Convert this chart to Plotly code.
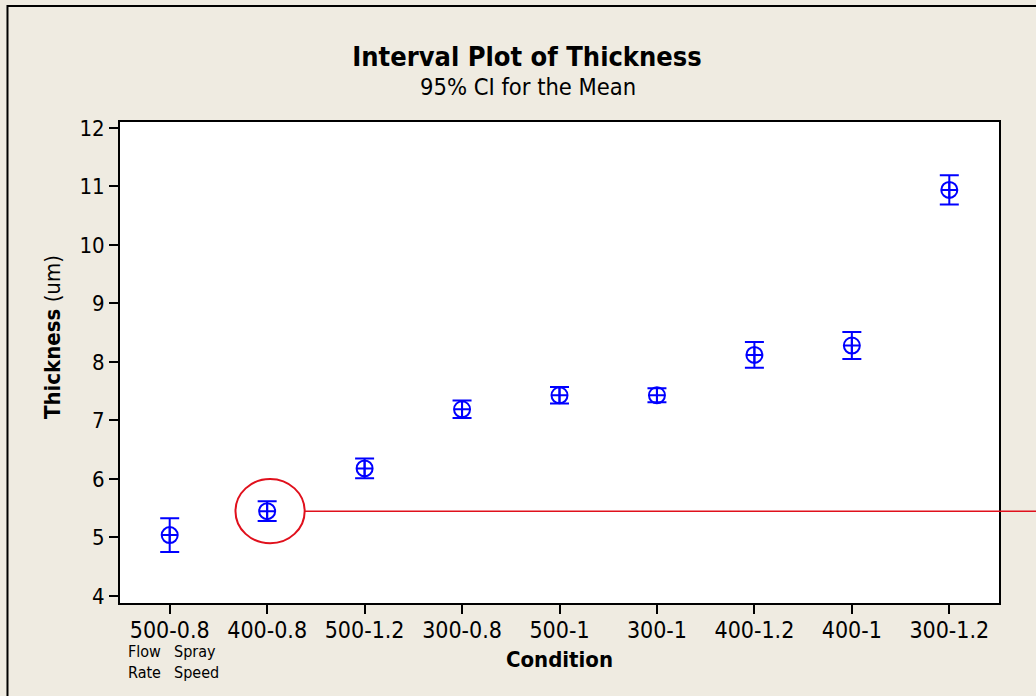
import plotly.graph_objects as go

conditions = ["500-0.8", "400-0.8", "500-1.2", "300-0.8", "500-1", "300-1", "400-1.2", "400-1", "300-1.2"]
means = [5.04, 5.45, 6.18, 7.19, 7.43, 7.43, 8.12, 8.28, 10.94]
ci_half = [0.29, 0.17, 0.17, 0.15, 0.14, 0.12, 0.22, 0.23, 0.25]
y_ticks = [4, 5, 6, 7, 8, 9, 10, 11, 12]

FONT = "DejaVu Sans Condensed, Liberation Sans, sans-serif"
BG = "#EFEBE1"
BLUE = "#0000FF"
RED = "#E0101C"
X_RANGE = [-0.51, 8.51]
Y_RANGE = [3.88, 12.1]

fig = go.Figure()
fig.add_trace(go.Scatter(
    x=list(range(len(conditions))), y=means, mode="markers",
    marker=dict(symbol="circle-cross-open", size=16, color=BLUE, line=dict(width=2, color=BLUE)),
    error_y=dict(type="data", array=ci_half, visible=True, color=BLUE, thickness=2, width=9.5),
    showlegend=False, hoverinfo="x+y",
))

hi = 1  # highlighted condition index
fig.add_shape(type="circle", xref="x", yref="y",
              x0=hi + 0.03 - 0.355, x1=hi + 0.03 + 0.355, y0=means[hi] - 0.55, y1=means[hi] + 0.55,
              line=dict(color=RED, width=2))
# pointer line running out past the right edge of the plot (paper coords so it is not clipped)
hx0 = (hi + 0.385 - X_RANGE[0]) / (X_RANGE[1] - X_RANGE[0])
hy = (means[hi] - Y_RANGE[0]) / (Y_RANGE[1] - Y_RANGE[0])
fig.add_shape(type="line", xref="paper", yref="paper",
              x0=hx0, x1=1.1, y0=hy, y1=hy,
              line=dict(color=RED, width=1.5))

# outer frame
fig.add_shape(type="rect", xref="paper", yref="paper",
              x0=-0.128, x1=1.5, y0=-0.5, y1=1.241,
              line=dict(color="black", width=2), layer="below")

fig.update_layout(
    width=1036, height=696,
    paper_bgcolor=BG, plot_bgcolor="white",
    margin=dict(l=120, r=37, t=122, b=93),
    font=dict(family=FONT, color="black", size=21),
    title=dict(
        text="<b>Interval Plot of Thickness</b>",
        x=527 / 1036, xanchor="center", xref="container", y=1 - 57 / 696, yanchor="middle",
        font=dict(family=FONT, size=27, color="black"),
    ),
    xaxis=dict(
        tickmode="array", tickvals=list(range(len(conditions))), ticktext=conditions,
        range=X_RANGE, showgrid=False, zeroline=False,
        showline=True, linecolor="black", linewidth=2, mirror=True,
        ticks="outside", ticklen=9, tickwidth=1.5, tickcolor="black",
        tickfont=dict(size=23), ticklabelstandoff=-4,
        title=dict(text="<b>Condition</b>", font=dict(size=22), standoff=10),
    ),
    yaxis=dict(
        tickmode="array", tickvals=y_ticks, range=Y_RANGE,
        showgrid=False, zeroline=False,
        showline=True, linecolor="black", linewidth=2, mirror=True,
        ticks="outside", ticklen=9, tickwidth=1.5, tickcolor="black",
        tickfont=dict(size=22),
    ),
)

fig.add_annotation(text="95% CI for the Mean", xref="paper", yref="paper", x=(528 - 120) / 879,
                   y=1 + (122 - 87) / 481,
                   xanchor="center", yanchor="middle", showarrow=False, font=dict(size=23.5, family=FONT))
fig.add_annotation(text="<b>Thickness</b> (um)", xref="paper", yref="paper",
                   x=(52 - 120) / 879, y=(603 - 337) / 481, textangle=-90,
                   xanchor="center", yanchor="middle", showarrow=False, font=dict(size=22, family=FONT))
fig.add_annotation(text="Flow<br>Rate", xref="paper", yref="paper", x=6 / 879, y=-(640 - 603) / 481,
                   xanchor="left", yanchor="top", showarrow=False, align="left",
                   font=dict(size=16, family=FONT))
fig.add_annotation(text="Spray<br>Speed", xref="paper", yref="paper", x=52 / 879, y=-(640 - 603) / 481,
                   xanchor="left", yanchor="top", showarrow=False, align="left",
                   font=dict(size=16, family=FONT))

fig.write_html("out.html", config={"displayModeBar": False},
               post_script="document.body.style.margin='0';document.body.style.background='#EFEBE1';")
